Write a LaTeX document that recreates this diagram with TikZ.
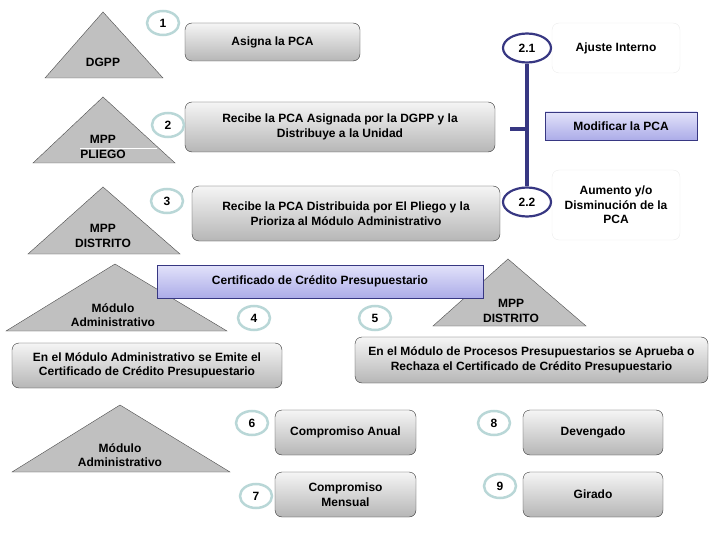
\documentclass[tikz,border=0pt]{standalone}
\usepackage{fontspec}
\setmainfont{Liberation Sans}
\usetikzlibrary{shapes.geometric}
\definecolor{tealring}{RGB}{185,215,215}
\definecolor{navyline}{RGB}{55,55,130}
\definecolor{lavtop}{RGB}{226,226,250}
\definecolor{lavbot}{RGB}{172,172,232}
\definecolor{boxtop}{RGB}{245,245,245}
\definecolor{boxbot}{RGB}{182,182,182}
\definecolor{trigray}{RGB}{192,192,192}
\definecolor{faintline}{RGB}{236,236,236}
\tikzset{
	txt/.style={font=\fontsize{12}{14.5}\selectfont\bfseries,align=center},
	procbox/.style={txt,draw=black!80,rounded corners=7pt,top color=boxtop,bottom color=boxbot,inner sep=0pt},
	bluebox/.style={txt,draw=navyline,top color=lavtop,bottom color=lavbot,inner sep=0pt},
	notebox/.style={txt,draw=faintline,rounded corners=7pt,fill=white,inner sep=0pt},
	ring/.style={ellipse,txt,draw=tealring,line width=2.5pt,fill=white,minimum width=32pt,minimum height=24pt,inner sep=0pt},
	navyring/.style={ellipse,txt,draw=navyline,line width=2.2pt,fill=white,minimum width=48pt,minimum height=29pt,inner sep=0pt},
	tri/.style={fill=trigray,draw=black!70,thin},
}
\begin{document}
\begin{tikzpicture}[x=1pt,y=-1pt]
	\useasboundingbox (0,0) rectangle (720,540);
	\filldraw [tri] (103,12) -- (163,78) -- (45,78) -- cycle;
	\filldraw [tri] (103,97) -- (175,163) -- (33,163) -- cycle;
	\draw [white,thin] (80,148) -- (157,148);
	\filldraw [tri] (103,187) -- (180,254) -- (28,254) -- cycle;
	\filldraw [tri] (115,264) -- (227,331) -- (6,331) -- cycle;
	\filldraw [tri] (508,259) -- (586,326) -- (433,326) -- cycle;
	\filldraw [tri] (120,405) -- (230,472) -- (12,472) -- cycle;
	\node [txt] (dgpp) at (103,62) {DGPP};
	\node [txt] (pliego) at (103,147) {MPP\\PLIEGO};
	\node [txt] (distrito) at (103,236) {MPP\\DISTRITO};
	\node [txt] (modadm) at (113,315) {Módulo\\Administrativo};
	\node [txt] (distritob) at (511,311) {MPP\\DISTRITO};
	\node [txt] (modadmb) at (120,455) {Módulo\\Administrativo};
	\node [procbox,minimum width=175pt,minimum height=38pt] (asigna) at (272.5,42) {Asigna la PCA};
	\node [procbox,minimum width=310pt,minimum height=50pt] (recibe) at (340,127) {Recibe la PCA Asignada por la DGPP y la\\Distribuye a la Unidad};
	\node [procbox,minimum width=308pt,minimum height=55pt] (prioriza) at (346,213.5) {Recibe la PCA Distribuida por El Pliego y la\\Prioriza al Módulo Administrativo};
	\node [bluebox,minimum width=326pt,minimum height=33pt] (certif) at (320,281.5) {Certificado de Crédito Presupuestario};
	\node [procbox,minimum width=270pt,minimum height=45pt] (emite) at (147,365.5) {En el Módulo Administrativo se Emite el\\Certificado de Crédito Presupuestario};
	\node [procbox,minimum width=353pt,minimum height=46pt] (aprueba) at (531.5,360) {En el Módulo de Procesos Presupuestarios se Aprueba o\\Rechaza el Certificado de Crédito Presupuestario};
	\node [procbox,minimum width=141pt,minimum height=45pt] (anual) at (345.5,432.5) {Compromiso Anual};
	\node [procbox,minimum width=141pt,minimum height=45pt] (mensual) at (345.5,494.5) {Compromiso\\Mensual};
	\node [procbox,minimum width=140pt,minimum height=45pt] (devengado) at (593,432.5) {Devengado};
	\node [procbox,minimum width=140pt,minimum height=45pt] (girado) at (593,494.5) {Girado};
	\node [notebox,minimum width=128pt,minimum height=50pt] (ajuste) at (616,48) {Ajuste Interno};
	\node [bluebox,minimum width=152pt,minimum height=28pt] (modificar) at (621,126) {Modificar la PCA};
	\node [notebox,minimum width=128pt,minimum height=70pt] (aumento) at (616,205) {Aumento y/o\\Disminución de la\\PCA};
	\node [ring] (n1) at (163,23) {1};
	\node [ring] (n2) at (168,125) {2};
	\node [ring] (n3) at (167,201) {3};
	\node [ring] (n4) at (254,318) {4};
	\node [ring] (n5) at (375,318) {5};
	\node [ring] (n6) at (252,423) {6};
	\node [ring] (n7) at (256,496) {7};
	\node [ring] (n8) at (494,423) {8};
	\node [ring] (n9) at (500,486) {9};
	\node [navyring] (n21) at (527,48) {2.1};
	\node [navyring] (n22) at (527,202) {2.2};
	\coordinate (hook) at (510,129);
	\draw [navyline,line width=4pt] (n21.south) -- (n22.north);
	\draw [navyline,line width=4pt] (hook) -- (hook -| n21);
\end{tikzpicture}
\end{document}
